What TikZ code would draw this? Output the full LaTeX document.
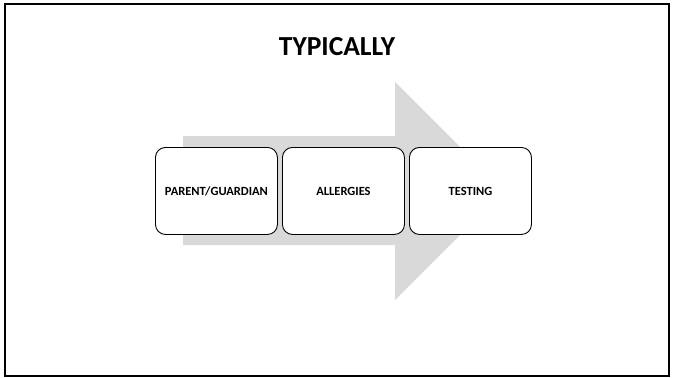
\documentclass[tikz,border=0pt]{standalone}
\usepackage{fontspec}
\setmainfont{Carlito}
\begin{document}
\begin{tikzpicture}[x=1pt,y=-1pt,
  stepbox/.style={draw=black, line width=0.9pt, fill=white, rounded corners=10pt,
    minimum width=122pt, minimum height=87pt, inner sep=0pt,
    font=\fontsize{12.5}{14}\selectfont\bfseries, anchor=north west},
  flowarrow/.style={fill=gray!30, draw=none}]
  \useasboundingbox (0,0) rectangle (673,378);
  % outer frame
  \draw[line width=2pt] (5,4) rectangle (669,376);
  % title
  \node[font=\fontsize{27.5}{32}\selectfont\bfseries] (title) at (337,47) {TYPICALLY};
  % background process arrow
  \fill[flowarrow] (183,136) -- (395,136) -- (395,82) -- (504,191)
    -- (395,300) -- (395,245) -- (183,245) -- cycle;
  % steps
  \node[stepbox] (parent) at (155,147) {PARENT/GUARDIAN};
  \node[stepbox] (allergies) at (282,147) {ALLERGIES};
  \node[stepbox] (testing) at (409,147) {TESTING};
\end{tikzpicture}
\end{document}
